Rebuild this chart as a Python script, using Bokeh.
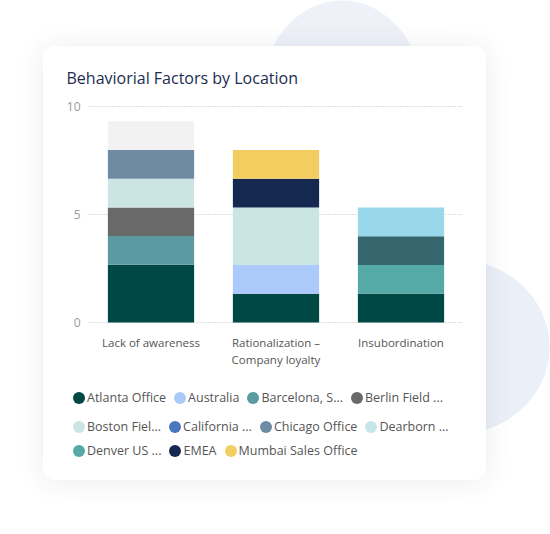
from bokeh.plotting import figure
from bokeh.models import ColumnDataSource, FixedTicker, Legend, LegendItem, FactorRange, Range1d
from bokeh.layouts import column
from bokeh.embed import file_html
from bokeh.resources import INLINE

# ---------------- data ----------------
categories = ["Lack of awareness", "Rationalization –\nCompany loyalty", "Insubordination"]

series_names = [
    "Atlanta Office", "Australia", "Barcelona, S...", "Berlin Field ...",
    "Boston Fiel...", "California ...", "Chicago Office", "Dearborn ...",
    "Denver US ...", "EMEA", "Mumbai Sales Office",
    "Location 12", "Location 13", "Location 14",
]
series_colors = [
    "#004845", "#abc9fa", "#5a9aa0", "#696969",
    "#cbe5e4", "#4a77be", "#6f8ba3", "#c6e7ea",
    "#55a9a7", "#15284f", "#f2cd5f",
    "#36676e", "#99d8ea", "#f2f2f2",
]
atlanta    = [2.67, 1.33, 1.33]
australia  = [0.00, 1.33, 0.00]
barcelona  = [1.33, 0.00, 0.00]
berlin     = [1.33, 0.00, 0.00]
boston     = [1.33, 2.67, 0.00]
california = [0.00, 0.00, 0.00]
chicago    = [1.33, 0.00, 0.00]
dearborn   = [0.00, 0.00, 0.00]
denver     = [0.00, 0.00, 1.33]
emea       = [0.00, 1.33, 0.00]
mumbai     = [0.00, 1.33, 0.00]
loc12      = [0.00, 0.00, 1.33]
loc13      = [0.00, 0.00, 1.33]
loc14      = [1.33, 0.00, 0.00]
series_values = [atlanta, australia, barcelona, berlin, boston, california, chicago,
                 dearborn, denver, emea, mumbai, loc12, loc13, loc14]
legend_count = 11  # series shown in legend
legend_rows = [[0, 1, 2, 3], [4, 5, 6, 7], [8, 9, 10]]
y_ticks = [0, 5, 10]

FONT = "Open Sans"

# ---------------- chart figure ----------------
keys = ["s%d" % i for i in range(len(series_names))]
data = {"cat": categories}
for k, v in zip(keys, series_values):
    data[k] = v
src = ColumnDataSource(data)

p = figure(width=443, height=334,
           x_range=FactorRange(factors=categories, range_padding=0),
           y_range=Range1d(-0.05, 10.05),
           output_backend="svg", toolbar_location=None,
           min_border_left=45, min_border_right=23,
           min_border_top=59, min_border_bottom=57)
p.frame_align = False
p.border_fill_color = None
p.background_fill_color = None
p.outline_line_color = None

p.title.text = "Behaviorial Factors by Location"
p.title.text_font = FONT
p.title.text_font_size = "16px"
p.title.text_font_style = "normal"
p.title.text_color = "#1c2b4f"
p.title.align = "left"
p.title.offset = -22
p.title.standoff = 34

p.vbar_stack(keys, x="cat", width=0.69, source=src,
             fill_color=series_colors, line_color=None)

p.yaxis.ticker = FixedTicker(ticks=y_ticks)
p.yaxis.axis_line_color = None
p.yaxis.major_tick_line_color = None
p.yaxis.minor_tick_line_color = None
p.yaxis.major_tick_out = 0
p.yaxis.major_tick_in = 0
p.yaxis.major_label_standoff = 8
p.yaxis.major_label_text_font = FONT
p.yaxis.major_label_text_font_size = "12px"
p.yaxis.major_label_text_color = "#9a9a9a"

p.xaxis.axis_line_color = None
p.xaxis.major_tick_line_color = None
p.xaxis.minor_tick_line_color = None
p.xaxis.major_tick_out = 0
p.xaxis.major_tick_in = 0
p.xaxis.major_label_standoff = 11
p.xaxis.major_label_text_font = FONT
p.xaxis.major_label_text_font_size = "11.5px"
p.xaxis.major_label_text_color = "#555555"
p.xaxis.major_label_text_line_height = 1.15

p.xgrid.grid_line_color = None
p.ygrid.grid_line_color = "#bdbdbd"
p.ygrid.grid_line_dash = "1 2"
p.ygrid.grid_line_width = 1

# ---------------- legend figure ----------------
q = figure(width=443, height=100, x_range=Range1d(0, 1), y_range=Range1d(0, 1),
           output_backend="svg", toolbar_location=None, title=None,
           x_axis_location=None, y_axis_location=None, min_border=0)
q.frame_align = False
q.border_fill_color = None
q.background_fill_color = None
q.outline_line_color = None
q.xgrid.visible = False
q.ygrid.visible = False

# dummy legend renderers: one off-frame point each, so only the legend shows them
dummies = []
for i in range(legend_count):
    r = q.ellipse(x=[-1], y=[-1], width=12, height=12,
                  width_units="screen", height_units="screen",
                  fill_color=series_colors[i], line_color=None)
    dummies.append(r)

row_offsets = [74, 45, 21]
for row, vy in zip(legend_rows, row_offsets):
    items = [LegendItem(label=series_names[i], renderers=[dummies[i]]) for i in row]
    lg = Legend(items=items, orientation="horizontal", location=(28, vy),
                glyph_width=15, glyph_height=17, label_height=17,
                label_standoff=1, spacing=6, padding=0, margin=0,
                label_text_font=FONT, label_text_font_size="12.5px",
                label_text_color="#555555",
                background_fill_alpha=0, border_line_color=None)
    q.add_layout(lg, "center")

card = column(p, q, width=443, height=434, spacing=0, styles={
    "border-radius": "12px",
    "background-color": "#ffffff",
    "box-shadow": "0 2px 28px rgba(30,40,80,0.09)",
})
card.margin = (46, 0, 0, 43)

layout = column(card, width=550, height=534, styles={
    "background-image": (
        "radial-gradient(82px 98px at 342px 98px, #eef1f8 99%, rgba(238,241,248,0) 100%),"
        "radial-gradient(95px 88px at 455px 347px, #ebeff7 99%, rgba(235,239,247,0) 100%)"
    ),
})

open("out.html", "w").write(file_html(layout, INLINE))
